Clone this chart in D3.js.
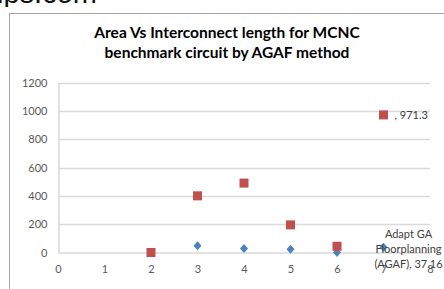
<!DOCTYPE html>
<html>
<head>
<meta charset="utf-8">
<script src="https://cdn.jsdelivr.net/npm/d3@7"></script>
<style>
	body { margin: 0; background: #fff; }
	svg { display: block; }
</style>
</head>
<body>
<script>
	// circuits on the x axis
	var circuits = [2, 3, 4, 5, 6, 7];
	// red squares (area)
	var areaValues = [0, 400, 490, 195, 44, 971.3];
	// blue diamonds (interconnect length, AGAF)
	var wireValues = [0, 47, 28, 23, 0, 37.16];
	var xTicks = [0, 1, 2, 3, 4, 5, 6, 7, 8];
	var yTicks = [0, 200, 400, 600, 800, 1000, 1200];
	var titleLines = ["Area Vs Interconnect length for MCNC", "benchmark circuit by AGAF method"];
	var pointLabel = ["Adapt GA", "Floorplanning", "(AGAF), 37.16"];

	var width = 444;
	var height = 289;
	var font = "Lato, 'Open Sans', sans-serif";

	var svg = d3
		.select("body")
		.append("svg")
		.attr("width", width)
		.attr("height", height);

	// bit of page text cut off at top
	svg.append("text")
		.attr("x", -3)
		.attr("y", 3)
		.style("font-family", "'Liberation Sans', Arial, sans-serif")
		.style("font-size", "29px")
		.style("fill", "#111")
		.text("ips.com");

	svg.append("rect").attr("x", 0).attr("y", 7).attr("width", width).attr("height", height).style("fill", "#fff");

	// chart frame
	svg.append("path")
		.attr("d", "M9.5," + height + "V13.5H" + width)
		.style("fill", "none")
		.style("stroke", "#a6a6a6");

	svg.selectAll(".title")
		.data(titleLines)
		.join("text")
		.attr("class", "title")
		.attr("x", 227)
		.attr("y", (d, i) => 38 + i * 20)
		.attr("text-anchor", "middle")
		.style("font-family", font)
		.style("font-weight", "bold")
		.style("font-size", "15.5px")
		.style("fill", "#000")
		.text((d) => d);

	var x = d3.scaleLinear().domain([0, 8]).range([58, 430]);
	var y = d3.scaleLinear().domain([0, 1200]).range([252.5, 82.5]);

	svg.selectAll(".grid")
		.data(yTicks.slice(1))
		.join("line")
		.attr("class", "grid")
		.attr("x1", 58)
		.attr("x2", 430)
		.attr("y1", (d) => Math.round(y(d)) + 0.5)
		.attr("y2", (d) => Math.round(y(d)) + 0.5)
		.style("stroke", "#d9d9d9")
		.style("stroke-width", 1.5);

	var yAxis = svg.append("g")
		.attr("transform", "translate(58.5,0)")
		.call(d3.axisLeft(y).tickValues(yTicks).tickFormat(d3.format("d")).tickSize(0).tickPadding(11));
	var xAxis = svg.append("g")
		.attr("transform", "translate(0,252.5)")
		.call(d3.axisBottom(x).tickValues(xTicks).tickSize(0).tickPadding(13));

	[xAxis, yAxis].forEach((g) => {
		g.select(".domain").style("stroke", "#d9d9d9").style("stroke-width", 1.5);
		g.selectAll("text")
			.style("font-family", font)
			.style("font-size", "11px")
			.style("fill", "#595959");
	});

	var diamond = "M0,-4.5L4,0L0,4.5L-4,0Z";

	svg.selectAll(".wire")
		.data(circuits)
		.join("path")
		.attr("class", "wire")
		.attr("d", diamond)
		.attr("transform", (d, i) => "translate(" + x(d) + "," + y(wireValues[i]) + ")")
		.style("fill", "#4f81bd");

	svg.selectAll(".area")
		.data(circuits)
		.join("rect")
		.attr("class", "area")
		.attr("x", (d) => x(d) - 4.5)
		.attr("y", (d, i) => y(areaValues[i]) - 4.5)
		.attr("width", 9)
		.attr("height", 9)
		.style("fill", "#c0504d");

	// data labels
	svg.append("text")
		.attr("x", x(7) + 11)
		.attr("y", y(areaValues[5]) + 4)
		.style("font-family", font)
		.style("font-size", "11px")
		.style("fill", "#404040")
		.text(", " + areaValues[5]);

	svg.selectAll(".plabel")
		.data(pointLabel)
		.join("text")
		.attr("class", "plabel")
		.attr("x", x(7) + 25)
		.attr("y", (d, i) => y(wireValues[5]) - 9 + i * 15)
		.attr("text-anchor", "middle")
		.style("font-family", font)
		.style("font-size", "11px")
		.style("fill", "#404040")
		.text((d) => d);
</script>
</body>
</html>
